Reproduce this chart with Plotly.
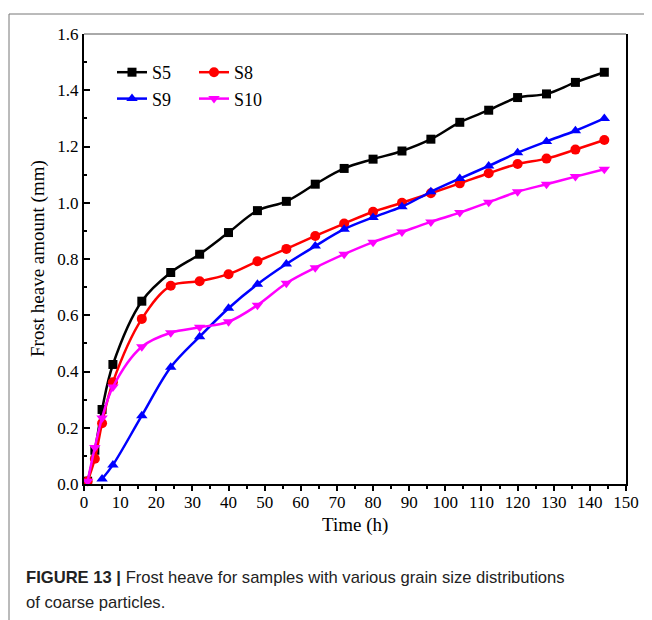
import plotly.graph_objects as go

# ---- data ----
time_h = [1, 3, 5, 8, 16, 24, 32, 40, 48, 56, 64, 72, 80, 88, 96, 104, 112, 120, 128, 136, 144]
s5 = [0.01, 0.12, 0.265, 0.425, 0.65, 0.752, 0.817, 0.894, 0.972, 1.005, 1.066, 1.122, 1.155,
      1.184, 1.226, 1.286, 1.329, 1.374, 1.387, 1.428, 1.464]
s8 = [0.01, 0.09, 0.216, 0.362, 0.587, 0.705, 0.721, 0.746, 0.792, 0.836, 0.882, 0.926, 0.968,
      1.000, 1.034, 1.069, 1.105, 1.138, 1.157, 1.189, 1.223]
time_s9 = [5, 8, 16, 24, 32, 40, 48, 56, 64, 72, 80, 88, 96, 104, 112, 120, 128, 136, 144]
s9 = [0.018, 0.068, 0.243, 0.415, 0.524, 0.625, 0.71, 0.782, 0.846, 0.906, 0.948, 0.986, 1.039,
      1.086, 1.131, 1.178, 1.218, 1.256, 1.300]
s10 = [0.01, 0.13, 0.235, 0.345, 0.488, 0.538, 0.557, 0.577, 0.636, 0.714, 0.769, 0.817, 0.860,
       0.896, 0.932, 0.965, 1.002, 1.039, 1.066, 1.093, 1.119]

x_ticks = list(range(0, 151, 10))
y_ticks = [0.0, 0.2, 0.4, 0.6, 0.8, 1.0, 1.2, 1.4, 1.6]

# ---- geometry (page pixels; the page body adds an 8px offset) ----
OFF = 8
W, H = 652 - OFF, 620 - OFF
L, R, T, B = 84, 626, 34, 484
def px(x):
    return (x - L) / (R - L)
def py(y):
    return (B - y) / (B - T)

SERIF = "Liberation Serif, Times New Roman, serif"

fig = go.Figure()
series = [
    ("S5", time_h, s5, "#000000", "square", 9, "legend"),
    ("S8", time_h, s8, "#ff0000", "circle", 10, "legend2"),
    ("S9", time_s9, s9, "#0000ff", "triangle-up", 10, "legend"),
    ("S10", time_h, s10, "#ff00ff", "triangle-down", 10, "legend2"),
]
for name, xs, ys, col, sym, sz, lg in series:
    fig.add_trace(go.Scatter(
        x=xs, y=ys, name=name, mode="lines+markers",
        line=dict(color=col, width=2.5, shape="spline", smoothing=1.0),
        marker=dict(color=col, symbol=sym, size=sz),
        cliponaxis=False, legend=lg,
    ))

legend_common = dict(
    font=dict(family=SERIF, size=18, color="black"),
    bgcolor="rgba(0,0,0,0)", borderwidth=0,
    orientation="v", xanchor="left", yanchor="top",
    itemsizing="trace", tracegroupgap=0,
)
fig.update_layout(
    width=W, height=H,
    margin=dict(l=L - OFF, r=W - (R - OFF), t=T - OFF, b=H - (B - OFF)),
    paper_bgcolor="white", plot_bgcolor="white",
    showlegend=True,
    legend=dict(x=px(112), y=py(54), **legend_common),
    legend2=dict(x=px(194), y=py(54), **legend_common),
    font=dict(family=SERIF, size=17, color="black"),
)

fig.update_xaxes(
    range=[0, 150], tickvals=x_ticks, ticks="outside", ticklen=5, tickwidth=1.5,
    tickcolor="black", showline=True, linewidth=2, linecolor="black", mirror=False,
    showgrid=False, zeroline=False, ticklabelstandoff=-3,
    tickfont=dict(family=SERIF, size=17, color="black"),
    minor=dict(dtick=5, ticks="outside", ticklen=3, tickwidth=1.5, tickcolor="black", showgrid=False),
)
fig.update_yaxes(
    range=[0, 1.6], tickvals=y_ticks, tickformat=".1f", ticks="inside", ticklen=6, tickwidth=1.5,
    tickcolor="black", showline=True, linewidth=2, linecolor="black", mirror=True,
    showgrid=False, zeroline=False,
    tickfont=dict(family=SERIF, size=17, color="black"),
    minor=dict(dtick=0.1, ticks="inside", ticklen=3, tickwidth=1.5, tickcolor="black", showgrid=False),
)

# thin top border of the plot box
fig.add_shape(type="line", xref="paper", yref="paper", x0=0, x1=1, y0=1, y1=1,
              line=dict(color="#555555", width=1))
# page frame lines (top and left)
fig.add_shape(type="line", xref="paper", yref="paper", x0=px(9), x1=px(660), y0=py(14), y1=py(14),
              line=dict(color="#777777", width=1))
fig.add_shape(type="line", xref="paper", yref="paper", x0=px(9), x1=px(9), y0=py(14), y1=py(630),
              line=dict(color="#777777", width=1))

# axis titles
fig.add_annotation(text="Time (h)", xref="paper", yref="paper", x=px(355), y=py(525),
                   xanchor="center", yanchor="middle", showarrow=False,
                   font=dict(family=SERIF, size=19, color="black"))
fig.add_annotation(text="Frost heave amount (mm)", xref="paper", yref="paper", x=px(38), y=py(259),
                   xanchor="center", yanchor="middle", textangle=-90, showarrow=False,
                   font=dict(family=SERIF, size=19, color="black"))

# caption
CAP = "Liberation Sans, Arial, sans-serif"
fig.add_annotation(text="<b>FIGURE 13 |</b> Frost heave for samples with various grain size distributions",
                   xref="paper", yref="paper", x=px(24), y=py(577), xanchor="left", yanchor="middle",
                   showarrow=False, font=dict(family=CAP, size=16.6, color="#222222"))
fig.add_annotation(text="of coarse particles.",
                   xref="paper", yref="paper", x=px(24), y=py(602), xanchor="left", yanchor="middle",
                   showarrow=False, font=dict(family=CAP, size=16.6, color="#222222"))

fig.write_html("out.html")
